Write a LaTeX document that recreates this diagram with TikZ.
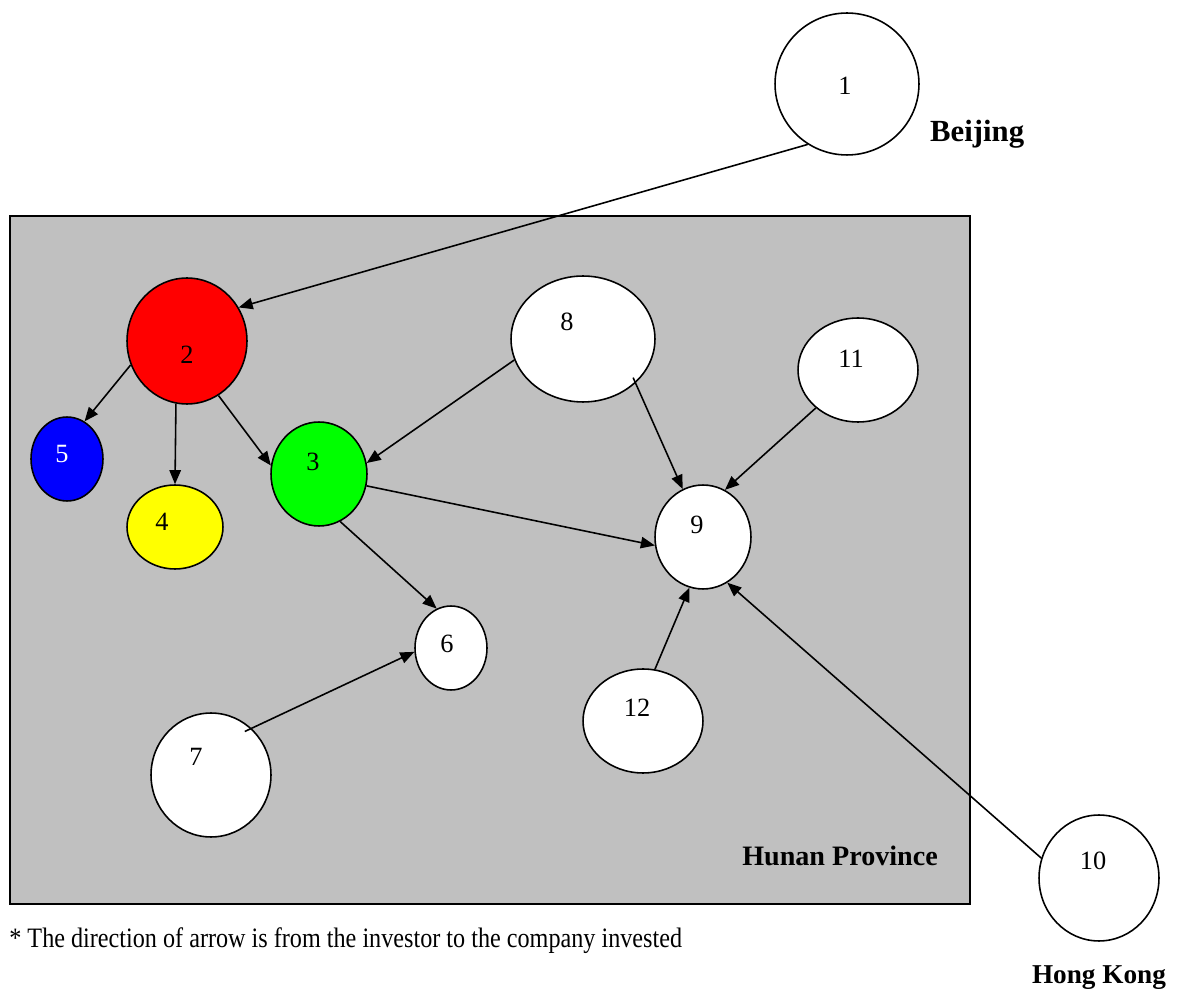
\documentclass[tikz,border=0pt]{standalone}
\usepackage{fontspec}
\setmainfont{Liberation Serif}
\newfontfamily\notefont{Liberation Serif}[FakeStretch=0.86]
\usepackage{xcolor}
\usepackage{tikz}
\usetikzlibrary{shapes.geometric, positioning, arrows.meta}
\definecolor{provgray}{RGB}{192,192,192}
\definecolor{firmred}{RGB}{255,0,0}
\definecolor{firmblue}{RGB}{0,0,255}
\definecolor{firmyellow}{RGB}{255,255,0}
\definecolor{firmgreen}{RGB}{0,255,0}
\tikzset{
    firm/.style={
        ellipse, draw=black, line width=0.9pt, fill=white, inner sep=0pt
    },
    % ellipse of given half axes (in px units of the reference)
    firmsize/.style 2 args={
        minimum width=#1*0.04cm, minimum height=#2*0.04cm
    },
    invest/.style={
        -{Triangle[length=8pt, width=6.5pt]}, line width=0.9pt, black
    },
    placename/.style={
        font=\fontsize{16}{18}\selectfont\bfseries
    }
}

\begin{document}
\begin{tikzpicture}[x=0.02cm, y=-0.02cm, font=\fontsize{15}{17}\selectfont]
    \useasboundingbox (0,0) rectangle (1194,996);

    % --- province ---
    \node[draw=black, line width=0.9pt, fill=provgray, minimum width=960*0.02cm,
          minimum height=688*0.02cm, inner sep=0pt, anchor=north west] (hunan) at (9,215) {};
    \node[placename, anchor=base] (hunanlbl) at (840,865) {Hunan Province};

    % --- companies ---
    \node[firm, firmsize={72}{71}, label={[xshift=-0.04cm, yshift=-0.04cm]center:1}] (n1) at (847,84) {};
    \node[firm, fill=firmred, firmsize={60}{63}, label={[yshift=-0.28cm]center:2}] (n2) at (187,341) {};
    \node[firm, fill=firmgreen, firmsize={48}{52}, label={[xshift=-0.12cm, yshift=0.24cm]center:3}] (n3) at (319,474) {};
    \node[firm, fill=firmyellow, firmsize={48}{42}, label={[xshift=-0.26cm, yshift=0.1cm]center:4}] (n4) at (175,527) {};
    \node[firm, fill=firmblue, firmsize={36}{42}, label={[xshift=-0.1cm, yshift=0.1cm, text=white]center:5}] (n5) at (67,459) {};
    \node[firm, firmsize={36}{42}, label={[xshift=-0.08cm, yshift=0.08cm]center:6}] (n6) at (451,648) {};
    \node[firm, firmsize={60}{62}, label={[xshift=-0.3cm, yshift=0.36cm]center:7}] (n7) at (211,775) {};
    \node[firm, firmsize={72}{63}, label={[xshift=-0.32cm, yshift=0.34cm]center:8}] (n8) at (583,339) {};
    \node[firm, firmsize={48}{52}, label={[xshift=-0.12cm, yshift=0.24cm]center:9}] (n9) at (703,537) {};
    \node[firm, firmsize={60}{63}, label={[xshift=-0.12cm, yshift=0.34cm]center:10}] (n10) at (1099,878) {};
    \node[firm, firmsize={60}{52}, label={[xshift=-0.14cm, yshift=0.22cm]center:11}] (n11) at (858,370) {};
    \node[firm, firmsize={60}{52}, label={[xshift=-0.12cm, yshift=0.26cm]center:12}] (n12) at (643,721) {};

    % --- places ---
    \node[placename, font=\fontsize{17.5}{19}\selectfont\bfseries, anchor=base west] (beijing) at (924,142) {Beijing};
    \node[placename, font=\fontsize{15.5}{18}\selectfont\bfseries, anchor=base] (hongkong) at (1099,983) {Hong Kong};

    % --- investments ---
    \draw[invest] (n1.-123) -- (n2.33);
    \draw[invest] (n2.-157) -- (n5.65);
    \draw[invest] (n2.-100) -- (n4.90);
    \draw[invest] (n2.-60) -- (n3.170);
    \draw[invest] (n8.-163) -- (n3.13);
    \draw[invest, shorten <=-0.12cm] (n8.-40) -- (n9.113);
    \draw[invest] (n11.-138) -- (n9.65);
    \draw[invest] (n3.-14) -- (n9.190);
    \draw[invest] (n3.-66) -- (n6.110);
    \draw[invest, shorten <=-0.15cm] (n7.49) -- (n6.186);
    \draw[invest] (n12.77) -- (n9.-105);
    \draw[invest] (n10.161) -- (n9.-62);

    % --- note ---
    \node[anchor=base west, inner sep=0pt, font=\notefont\fontsize{16}{18}\selectfont] (note) at (9,947)
        {* The direction of arrow is from the investor to the company invested};
\end{tikzpicture}
\end{document}
